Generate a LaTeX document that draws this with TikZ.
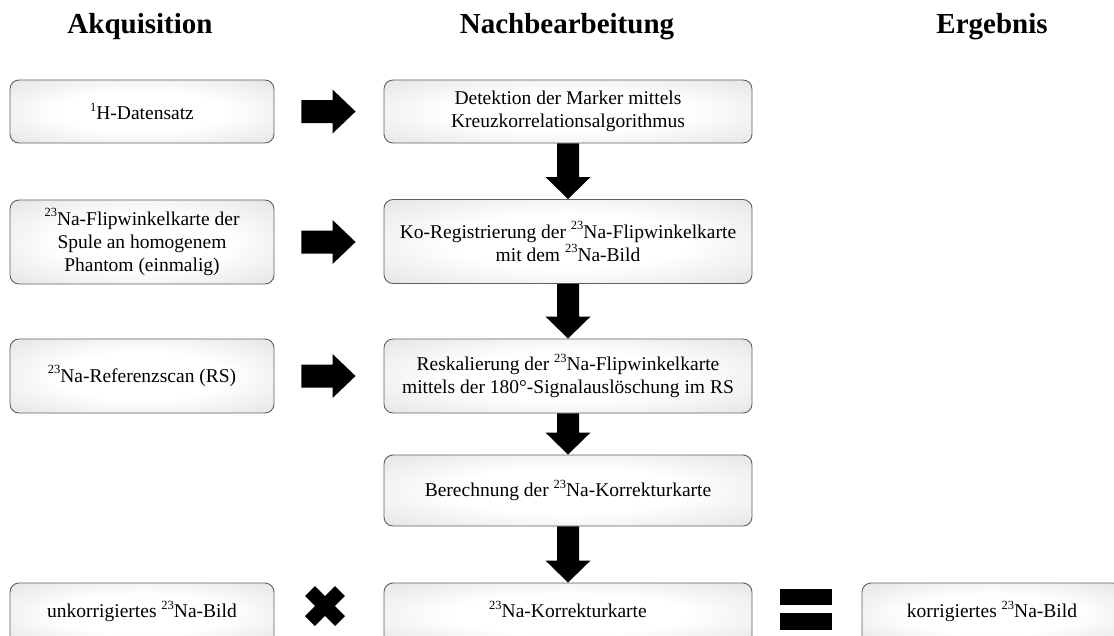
\documentclass[tikz,border=0pt]{standalone}
\usepackage{fontspec}
\setmainfont{Liberation Serif}
\usetikzlibrary{calc}
\definecolor{boxedge}{HTML}{606060}
\definecolor{boxshade}{HTML}{D2D2D2}
% soft glow: white in the middle, light grey towards the border
\pgfdeclareradialshading{softglow}{\pgfpoint{0bp}{0bp}}{%
  color(0bp)=(white); color(16bp)=(white); color(50bp)=(boxshade)}
% small raised index for isotope numbers
\newcommand\iso[1]{\raisebox{0.42em}{\fontsize{12.5}{12.5}\selectfont #1}}
\begin{document}
\begin{tikzpicture}[x=1pt,y=-1pt,
  box/.style={draw=boxedge, line width=0.9pt, rounded corners=9pt,
    shading=softglow, align=center, inner sep=0pt,
    font=\fontsize{19.5}{23}\selectfont},
  head/.style={font=\fontsize{29}{32}\selectfont\bfseries, anchor=base},
  blk/.style={fill=black}]
\useasboundingbox (0,0) rectangle (1114,635);
\clip (0,0) rectangle (1114,635);

% column headings
\node[head] (hA) at (140,33) {Akquisition};
\node[head] (hN) at (567,33) {Nachbearbeitung};
\node[head] (hE) at (992,33) {Ergebnis};

% acquisition column
\node[box, minimum width=264pt, minimum height=63pt] (l1) at (142,111.5)
  {\iso{1}H-Datensatz};
\node[box, minimum width=264pt, minimum height=84pt] (l2) at (142,242)
  {\iso{23}Na-Flipwinkelkarte der\\Spule an homogenem\\Phantom (einmalig)};
\node[box, minimum width=264pt, minimum height=74pt] (l3) at (142,376)
  {\iso{23}Na-Referenzscan (RS)};
\node[box, minimum width=264pt, minimum height=62pt] (l4) at (142,614)
  {\raisebox{9pt}{unkorrigiertes \iso{23}Na-Bild}};

% post-processing column
\node[box, minimum width=368pt, minimum height=63pt] (m1) at (568,111.5)
  {Detektion der Marker mittels\\Kreuzkorrelationsalgorithmus};
\node[box, minimum width=368pt, minimum height=84pt] (m2) at (568,241.5)
  {Ko-Registrierung der \iso{23}Na-Flipwinkelkarte\\mit dem \iso{23}Na-Bild};
\node[box, minimum width=368pt, minimum height=74pt] (m3) at (568,376)
  {Reskalierung der \iso{23}Na-Flipwinkelkarte\\mittels der 180°-Signalauslöschung im RS};
\node[box, minimum width=368pt, minimum height=71pt] (m4) at (568,490.5)
  {Berechnung der \iso{23}Na-Korrekturkarte};
\node[box, minimum width=368pt, minimum height=62pt] (m5) at (568,614)
  {\raisebox{9pt}{\iso{23}Na-Korrekturkarte}};

% result column
\node[box, minimum width=260pt, minimum height=62pt] (r5) at (992,614)
  {\raisebox{9pt}{korrigiertes \iso{23}Na-Bild}};

% block arrows to the right
\foreach \a/\b in {l1/m1, l2/m2, l3/m3}{
  \fill[blk] let \p1=(\a.east), \p2=(\b.west) in
    (\x1+27pt,\y1+11.5pt) -- (\x2-51pt,\y1+11.5pt) -- (\x2-51pt,\y1+22pt)
    -- (\x2-28pt,\y1) -- (\x2-51pt,\y1-22pt) -- (\x2-51pt,\y1-11.5pt)
    -- (\x1+27pt,\y1-11.5pt) -- cycle;
}

% block arrows downwards
\foreach \a/\b in {m1/m2, m2/m3, m3/m4, m4/m5}{
  \fill[blk] let \p1=(\a.south), \p2=(\b.north) in
    (\x1-11pt,\y1) -- (\x1+11pt,\y1) -- (\x1+11pt,\y2+22pt)
    -- (\x1+22.5pt,\y2+22pt) -- (\x1,\y2) -- (\x1-22.5pt,\y2+22pt)
    -- (\x1-11pt,\y2+22pt) -- cycle;
}

% multiplication sign and equals sign
\coordinate (times) at (325,606);
\draw[line width=14pt] ($(times)+(-15,-15)$) -- ($(times)+(15,15)$);
\draw[line width=14pt] ($(times)+(-15,15)$) -- ($(times)+(15,-15)$);
\coordinate (eq) at (806,609.5);
\fill[blk] ($(eq)+(-26,-20.5)$) rectangle ($(eq)+(26,-4.5)$);
\fill[blk] ($(eq)+(-26,3.5)$) rectangle ($(eq)+(26,20.5)$);
\end{tikzpicture}
\end{document}
